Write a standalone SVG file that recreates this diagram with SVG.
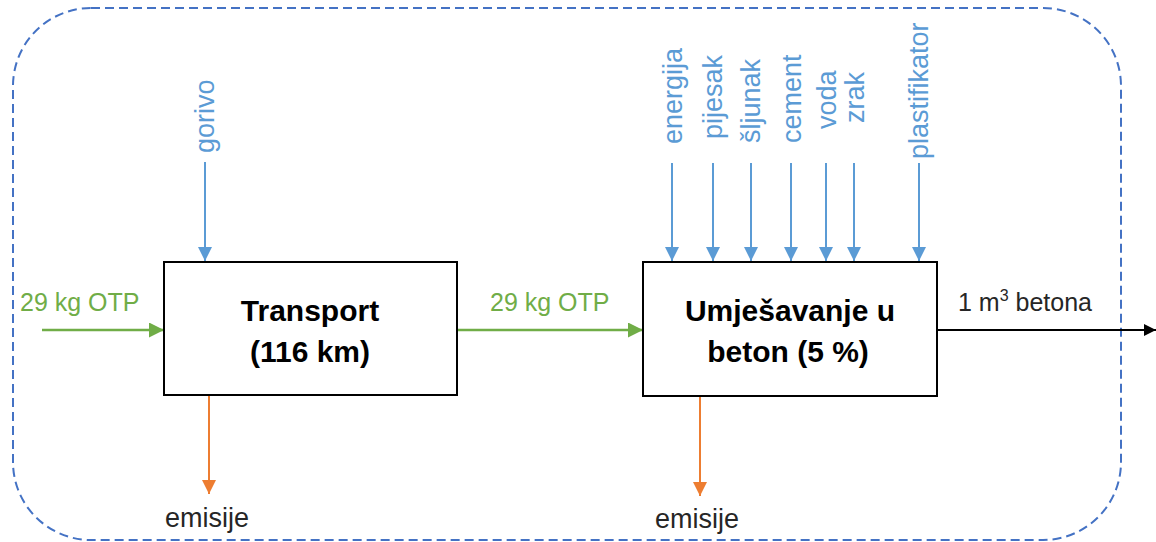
<svg xmlns="http://www.w3.org/2000/svg" width="1156" height="542" viewBox="0 0 1156 542">
<defs>
<style>
text{font-family:"Liberation Sans",Arial,sans-serif}
.lbl{font-size:25px}
.em{font-size:27px}
.blue{fill:#5B9BD5}
.green{fill:#70AD47}
.dark{fill:#262626}
.title{font-size:30px;font-weight:bold;fill:#000;text-anchor:middle}
.vert{font-size:27px;fill:#5B9BD5}
.box{fill:#fff;stroke:#000;stroke-width:2}
.cb{stroke:#5B9BD5;stroke-width:2;fill:none}
.cg{stroke:#70AD47;stroke-width:2.5;fill:none}
.co{stroke:#ED7D31;stroke-width:2;fill:none}
.ck{stroke:#000;stroke-width:2;fill:none}
</style>
<marker id="ab" viewBox="0 0 10 10" refX="10" refY="5" markerWidth="7" markerHeight="7" orient="auto" markerUnits="strokeWidth"><path d="M0,0L10,5L0,10z" fill="#5B9BD5"/></marker>
<marker id="ag" viewBox="0 0 10 10" refX="10" refY="5" markerWidth="6" markerHeight="6" orient="auto" markerUnits="strokeWidth"><path d="M0,0L10,5L0,10z" fill="#70AD47"/></marker>
<marker id="ao" viewBox="0 0 10 10" refX="10" refY="5" markerWidth="7" markerHeight="7" orient="auto" markerUnits="strokeWidth"><path d="M0,0L10,5L0,10z" fill="#ED7D31"/></marker>
<marker id="ak" viewBox="0 0 10 10" refX="10" refY="5" markerWidth="6" markerHeight="6" orient="auto" markerUnits="strokeWidth"><path d="M0,0L10,5L0,10z" fill="#000"/></marker>
</defs>
<rect width="1156" height="542" fill="#fff"/>
<rect id="boundary" x="13" y="8" width="1108" height="532" rx="78" ry="78" fill="none" stroke="#4472C4" stroke-width="2" stroke-dasharray="9 5"/>
<g id="connectors">
<line class="cb" x1="205" y1="162" x2="205" y2="261" marker-end="url(#ab)"/>
<line class="cb" x1="672" y1="163" x2="672" y2="261" marker-end="url(#ab)"/>
<line class="cb" x1="713" y1="163" x2="713" y2="261" marker-end="url(#ab)"/>
<line class="cb" x1="751" y1="163" x2="751" y2="261" marker-end="url(#ab)"/>
<line class="cb" x1="791" y1="163" x2="791" y2="261" marker-end="url(#ab)"/>
<line class="cb" x1="826" y1="163" x2="826" y2="261" marker-end="url(#ab)"/>
<line class="cb" x1="854" y1="163" x2="854" y2="261" marker-end="url(#ab)"/>
<line class="cb" x1="919" y1="163" x2="919" y2="261" marker-end="url(#ab)"/>
<line class="cg" x1="42" y1="330" x2="164" y2="330" marker-end="url(#ag)"/>
<line class="cg" x1="457" y1="330" x2="643" y2="330" marker-end="url(#ag)"/>
<line class="ck" x1="937" y1="330" x2="1156" y2="330" marker-end="url(#ak)"/>
<line class="co" x1="209" y1="395" x2="209" y2="494" marker-end="url(#ao)"/>
<line class="co" x1="700" y1="396" x2="700" y2="496" marker-end="url(#ao)"/>
</g>
<g id="labels">
<text class="lbl green" x="20" y="311">29 kg OTP</text>
<text class="lbl green" x="490" y="311">29 kg OTP</text>
<text class="lbl dark" x="958" y="311">1 m<tspan font-size="16" dy="-10">3</tspan><tspan dy="10"> betona</tspan></text>
<text class="em dark" x="165" y="527">emisije</text>
<text class="em dark" x="655" y="528">emisije</text>
<text class="vert" transform="translate(214,153) rotate(-90)">gorivo</text>
<text class="vert" transform="translate(682,144) rotate(-90)">energija</text>
<text class="vert" transform="translate(722,139) rotate(-90)">pijesak</text>
<text class="vert" transform="translate(760,143) rotate(-90)">šljunak</text>
<text class="vert" transform="translate(801,143) rotate(-90)">cement</text>
<text class="vert" transform="translate(836,129) rotate(-90)">voda</text>
<text class="vert" transform="translate(864,123) rotate(-90)">zrak</text>
<text class="vert" transform="translate(928,159) rotate(-90)">plastifikator</text>
</g>
<g id="transport">
<rect class="box" x="164" y="262" width="293" height="133"/>
<text class="title" x="310" y="321">Transport</text>
<text class="title" x="310" y="362">(116 km)</text>
</g>
<g id="mixing">
<rect class="box" x="643" y="262" width="294" height="134"/>
<text class="title" x="790" y="321">Umješavanje u</text>
<text class="title" x="788" y="362">beton (5 %)</text>
</g>
</svg>
